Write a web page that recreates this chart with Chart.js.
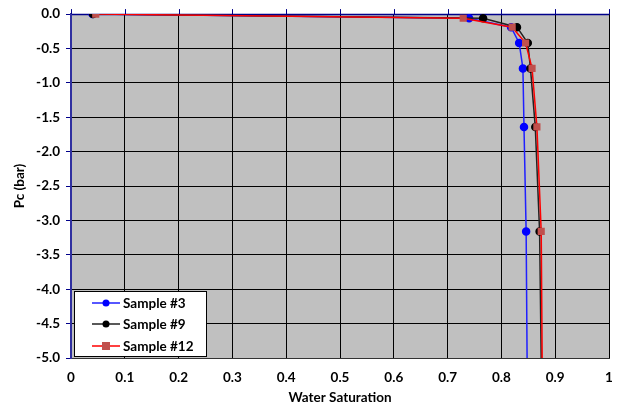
<!DOCTYPE html>
<html><head><meta charset="utf-8">
<script src="https://cdn.jsdelivr.net/npm/chart.js@4/dist/chart.umd.min.js"></script>
<style>html,body{margin:0;padding:0;background:#fff}#wrap{width:621px;height:410px;position:relative}</style>
</head><body><div id="wrap"><canvas id="c" width="621" height="410"></canvas></div>
<script>
const seriesNames = ["Sample #3", "Sample #9", "Sample #12"];
const pc = [0, -0.06, -0.19, -0.42, -0.79, -1.64, -3.16, -6.3];
const sw3  = [0.040, 0.740, 0.818, 0.833, 0.840, 0.842, 0.846, 0.849];
const sw9  = [0.041, 0.766, 0.829, 0.849, 0.854, 0.863, 0.871, 0.876];
const sw12 = [0.046, 0.729, 0.820, 0.845, 0.857, 0.866, 0.874, 0.877];
const xTicks = [0,0.1,0.2,0.3,0.4,0.5,0.6,0.7,0.8,0.9,1];
const yTicks = [0,-0.5,-1,-1.5,-2,-2.5,-3,-3.5,-4,-4.5,-5];

const pts = sw => sw.map((x,i)=>({x, y: pc[i]}));
const FONT = "Lato, 'Open Sans', sans-serif";
const FS = 13.5;

const bgPlugin = {
  id:'bg',
  beforeDraw(chart){
    const {ctx, chartArea:a} = chart;
    ctx.save(); ctx.fillStyle='#C0C0C0';
    ctx.fillRect(a.left,a.top,a.right-a.left,a.bottom-a.top); ctx.restore();
  },
  beforeDatasetsDraw(chart){
    const {ctx, chartArea:a, scales} = chart;
    ctx.save();
    ctx.strokeStyle='#00008B'; ctx.lineWidth=1.5;
    ctx.beginPath(); ctx.moveTo(a.left, a.top+0.5); ctx.lineTo(a.right, a.top+0.5); ctx.stroke();
    ctx.beginPath();
    xTicks.forEach(v=>{ const px=Math.round(scales.x.getPixelForValue(v))+0.5; ctx.moveTo(px,a.top); ctx.lineTo(px,a.top-5); });
    ctx.lineWidth=1; ctx.stroke();
    ctx.lineWidth=2; ctx.strokeStyle='#3030A0';
    ctx.beginPath(); ctx.moveTo(a.left, a.top); ctx.lineTo(a.left, a.bottom); ctx.stroke();
    ctx.restore();
  },
  afterDraw(chart){
    const {ctx} = chart;
    const bx=74, by=291, bw=132, bh=65;
    ctx.save();
    ctx.fillStyle='#fff'; ctx.fillRect(bx,by,bw,bh);
    ctx.strokeStyle='#000'; ctx.lineWidth=1; ctx.strokeRect(bx+0.5,by+0.5,bw,bh);
    const rows=[303,324,346];
    chart.data.datasets.forEach((ds,i)=>{
      const y=rows[i];
      ctx.strokeStyle=ds.borderColor; ctx.lineWidth=1.5;
      ctx.beginPath(); ctx.moveTo(92,y); ctx.lineTo(120,y); ctx.stroke();
      ctx.fillStyle=ds.pointBackgroundColor;
      if(ds.pointStyle==='rect'){ ctx.fillRect(102,y-4,8,8); }
      else { ctx.beginPath(); ctx.arc(106,y,3.5,0,Math.PI*2); ctx.fill(); }
      ctx.fillStyle='#000'; ctx.font="bold "+FS+"px "+FONT; ctx.textBaseline='middle';
      ctx.fillText(ds.label,123,y+1);
    });
    ctx.restore();
  }
};

new Chart(document.getElementById('c'), {
  type:'scatter',
  data:{ datasets:[
    {label:seriesNames[0], data:pts(sw3), order:2, showLine:true, borderColor:'#1F1FFF', backgroundColor:'#0000FF', pointBackgroundColor:'#0000FF', pointBorderColor:'#0000FF', pointRadius:3.5, borderWidth:1.5, pointStyle:'circle'},
    {label:seriesNames[1], data:pts(sw9), order:1, showLine:true, borderColor:'#222222', backgroundColor:'#000000', pointBackgroundColor:'#000000', pointBorderColor:'#000000', pointRadius:3.5, borderWidth:1.5, pointStyle:'circle'},
    {label:seriesNames[2], data:pts(sw12), order:0, showLine:true, borderColor:'#FF0000', backgroundColor:'#C0504D', pointBackgroundColor:'#C0504D', pointBorderColor:'#C0504D', pointRadius:4, borderWidth:1.5, pointStyle:'rect'}
  ]},
  options:{
    responsive:false, animation:false,
    layout:{padding:{top:13,right:12,left:0,bottom:0}},
    plugins:{legend:{display:false}, tooltip:{enabled:false}},
    scales:{
      x:{type:'linear', min:0, max:1, position:'bottom',
         afterBuildTicks: s=>{ s.ticks = xTicks.map(v=>({value:v})); },
         afterFit: s=>{ s.height = 52; s.paddingRight = 0; s.paddingLeft = 0; },
         grid:{color:'#000', lineWidth:1, drawTicks:false},
         border:{color:'#333', width:1},
         ticks:{padding:12, color:'#000', font:{family:FONT, size:FS, weight:'bold'}, maxRotation:0,
                callback: v => String(Math.round(v*10)/10)},
         title:{display:true, text:'Water Saturation', color:'#000', font:{family:FONT, size:FS, weight:'bold'}, padding:{top:4}}
      },
      y:{type:'linear', min:-5, max:0,
         afterBuildTicks: s=>{ s.ticks = yTicks.map(v=>({value:v})); },
         afterFit: s=>{ s.width = 71; },
         grid:{color:'#000', lineWidth:1, tickLength:5, tickColor:'#00008B'},
         border:{color:'#3030A0', width:2},
         ticks:{padding:6, color:'#000', font:{family:FONT, size:FS, weight:'bold'},
                callback: v => v.toFixed(1)},
         title:{display:true, text:'Pc (bar)', color:'#000', font:{family:FONT, size:FS, weight:'bold'}, padding:{top:12, bottom:4}}
      }
    }
  },
  plugins:[bgPlugin]
});
</script></body></html>
